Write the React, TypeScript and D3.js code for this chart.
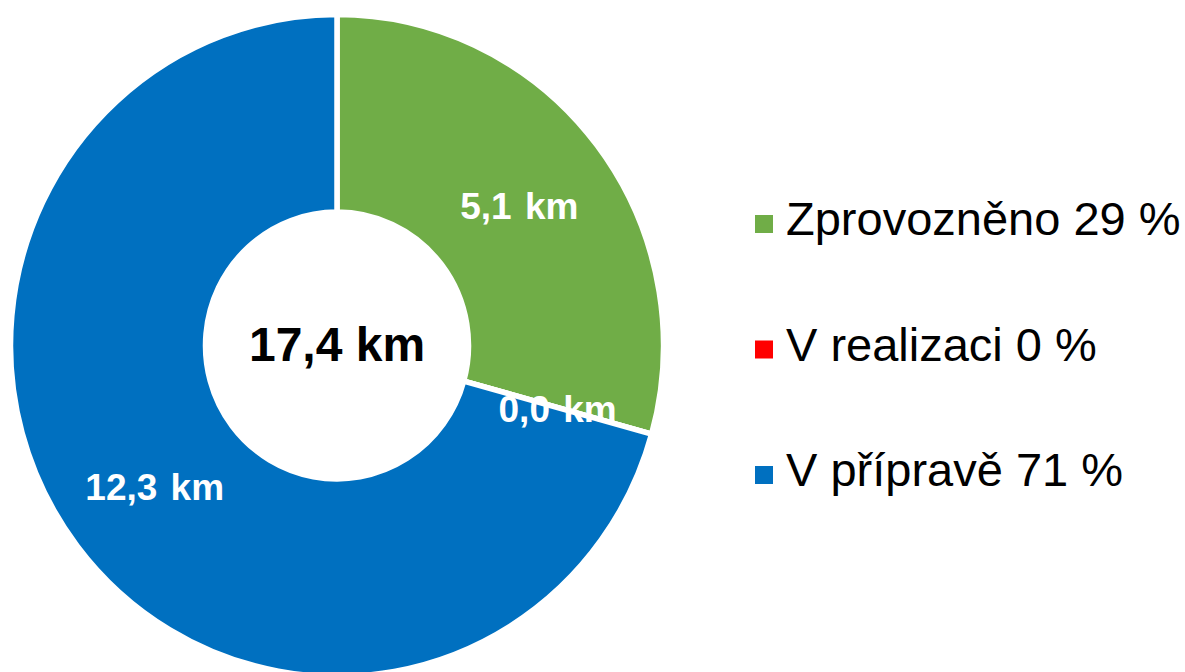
import React from "react";
import * as d3 from "d3";

const categories = ["Zprovozněno", "V realizaci", "V přípravě"];
const values = [5.1, 0.0, 12.3];
const percents = [29, 0, 71];
const colors = ["#70AD47", "#FF0000", "#0070C0"];
const totalLabel = "17,4 km";

const fmt = (v: number) => v.toFixed(1).replace(".", ",") + " km";

export default function App() {
  const W = 1185;
  const H = 672;
  const cx = 337;
  const cy = 345.5;
  const rOuter = 326.5;
  const rInner = 131.5;
  const sy = 1.014;

  const pie = d3
    .pie<number>()
    .sort(null)
    .value((d) => d)
    .startAngle(0)
    .endAngle(2 * Math.PI);
  const arcs = pie(values);
  const arc = d3.arc<d3.PieArcDatum<number>>().innerRadius(rInner).outerRadius(rOuter);
  const labelArc = d3
    .arc<d3.PieArcDatum<number>>()
    .innerRadius((rInner + rOuter) / 2)
    .outerRadius((rInner + rOuter) / 2);

  const legendY = d3.scalePoint<string>().domain(categories).range([235, 486]);

  return (
    <svg
      width={W}
      height={H}
      style={{ position: "absolute", left: 0, top: 0, background: "#fff" }}
      fontFamily="'Liberation Sans', Arial, sans-serif"
    >
      <g transform={`translate(${cx},${cy}) scale(1,${sy})`}>
        {arcs.map((a, i) => (
          <path
            key={i}
            d={arc(a) || ""}
            fill={colors[i]}
            stroke="#fff"
            strokeWidth={5.5}
            strokeLinejoin="miter"
          />
        ))}
      </g>
      <g transform={`translate(${cx},${cy})`}>
        {arcs.map((a, i) => {
          const [x, y] = labelArc.centroid(a);
          return (
            <text
              key={i}
              x={x}
              y={y * sy + 14}
              textAnchor="middle"
              fill="#fff"
              fontWeight="bold"
              fontSize={37}
              style={{ wordSpacing: "3px" }}
            >
              {fmt(values[i])}
            </text>
          );
        })}
        <text x={0} y={15.5} textAnchor="middle" fill="#000" fontWeight="bold" fontSize={48}>
          {totalLabel}
        </text>
      </g>
      <g>
        {categories.map((c, i) => {
          const by = legendY(c) as number;
          return (
            <g key={c}>
              <rect x={755} y={by - 20} width={18} height={18} fill={colors[i]} />
              <text x={786} y={by} fontSize={47} fill="#000">
                {`${c} ${percents[i]} %`}
              </text>
            </g>
          );
        })}
      </g>
    </svg>
  );
}
